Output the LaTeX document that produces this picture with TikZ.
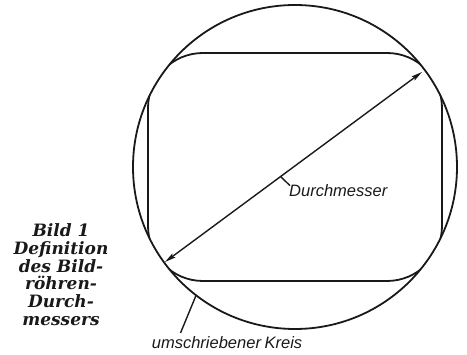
\documentclass[tikz,border=0pt]{standalone}
\usepackage{fontspec}
\usetikzlibrary{arrows.meta,calc}
\newfontfamily\capfont{DejaVu Serif}
\newfontfamily\labfont{Liberation Sans}
\begin{document}
\begin{tikzpicture}[x=1pt,y=-1pt,
  outline/.style={line width=1.8pt,black!90},
  thinline/.style={line width=1.4pt,black!90},
  lab/.style={font={\labfont\itshape\fontsize{16.5}{18}\selectfont},inner sep=0pt,text=black!90},
  captext/.style={font={\capfont\bfseries\itshape\fontsize{17}{17.7}\selectfont},inner sep=0pt,align=center,text=black!90}]
\useasboundingbox (0,0) rectangle (467,355);
\coordinate (c) at (295,167);
% rectangle clipped by the circle
\begin{scope}
  \clip (c) circle (162);
  \draw[outline,rounded corners=55pt] (148,53) rectangle (442,281);
\end{scope}
\draw[outline] (c) circle (162);
% diameter arrow
\coordinate (p1) at (165,262);
\coordinate (p2) at (422,72);
\draw[thinline,{Stealth[length=11pt,width=5pt,inset=2pt]}-{Stealth[length=11pt,width=5pt,inset=2pt]}] (p1) -- (p2);
% Durchmesser label
\coordinate (dm) at ($(p1)!0.45!(p2)$);
\node[lab,anchor=base west] (dlab) at (289,196.7) {Durchmesser};
\coordinate (dt) at (290,185.7);
\draw[thinline] (dm) -- (dt);
% umschriebener Kreis label
\node[lab,anchor=base west] (klab) at (151.7,348.3) {umschriebener\hspace{-1pt} Kreis};
\coordinate (kc) at (196,295.5);
\coordinate (kt) at (180.5,333);
\draw[thinline] (kc) -- (kt);
% caption
\node[captext,anchor=north] (capnode) at (61,223.5) {Bild 1\\Definition\\des Bild-\\röhren-\\Durch-\\messers};
\end{tikzpicture}
\end{document}
